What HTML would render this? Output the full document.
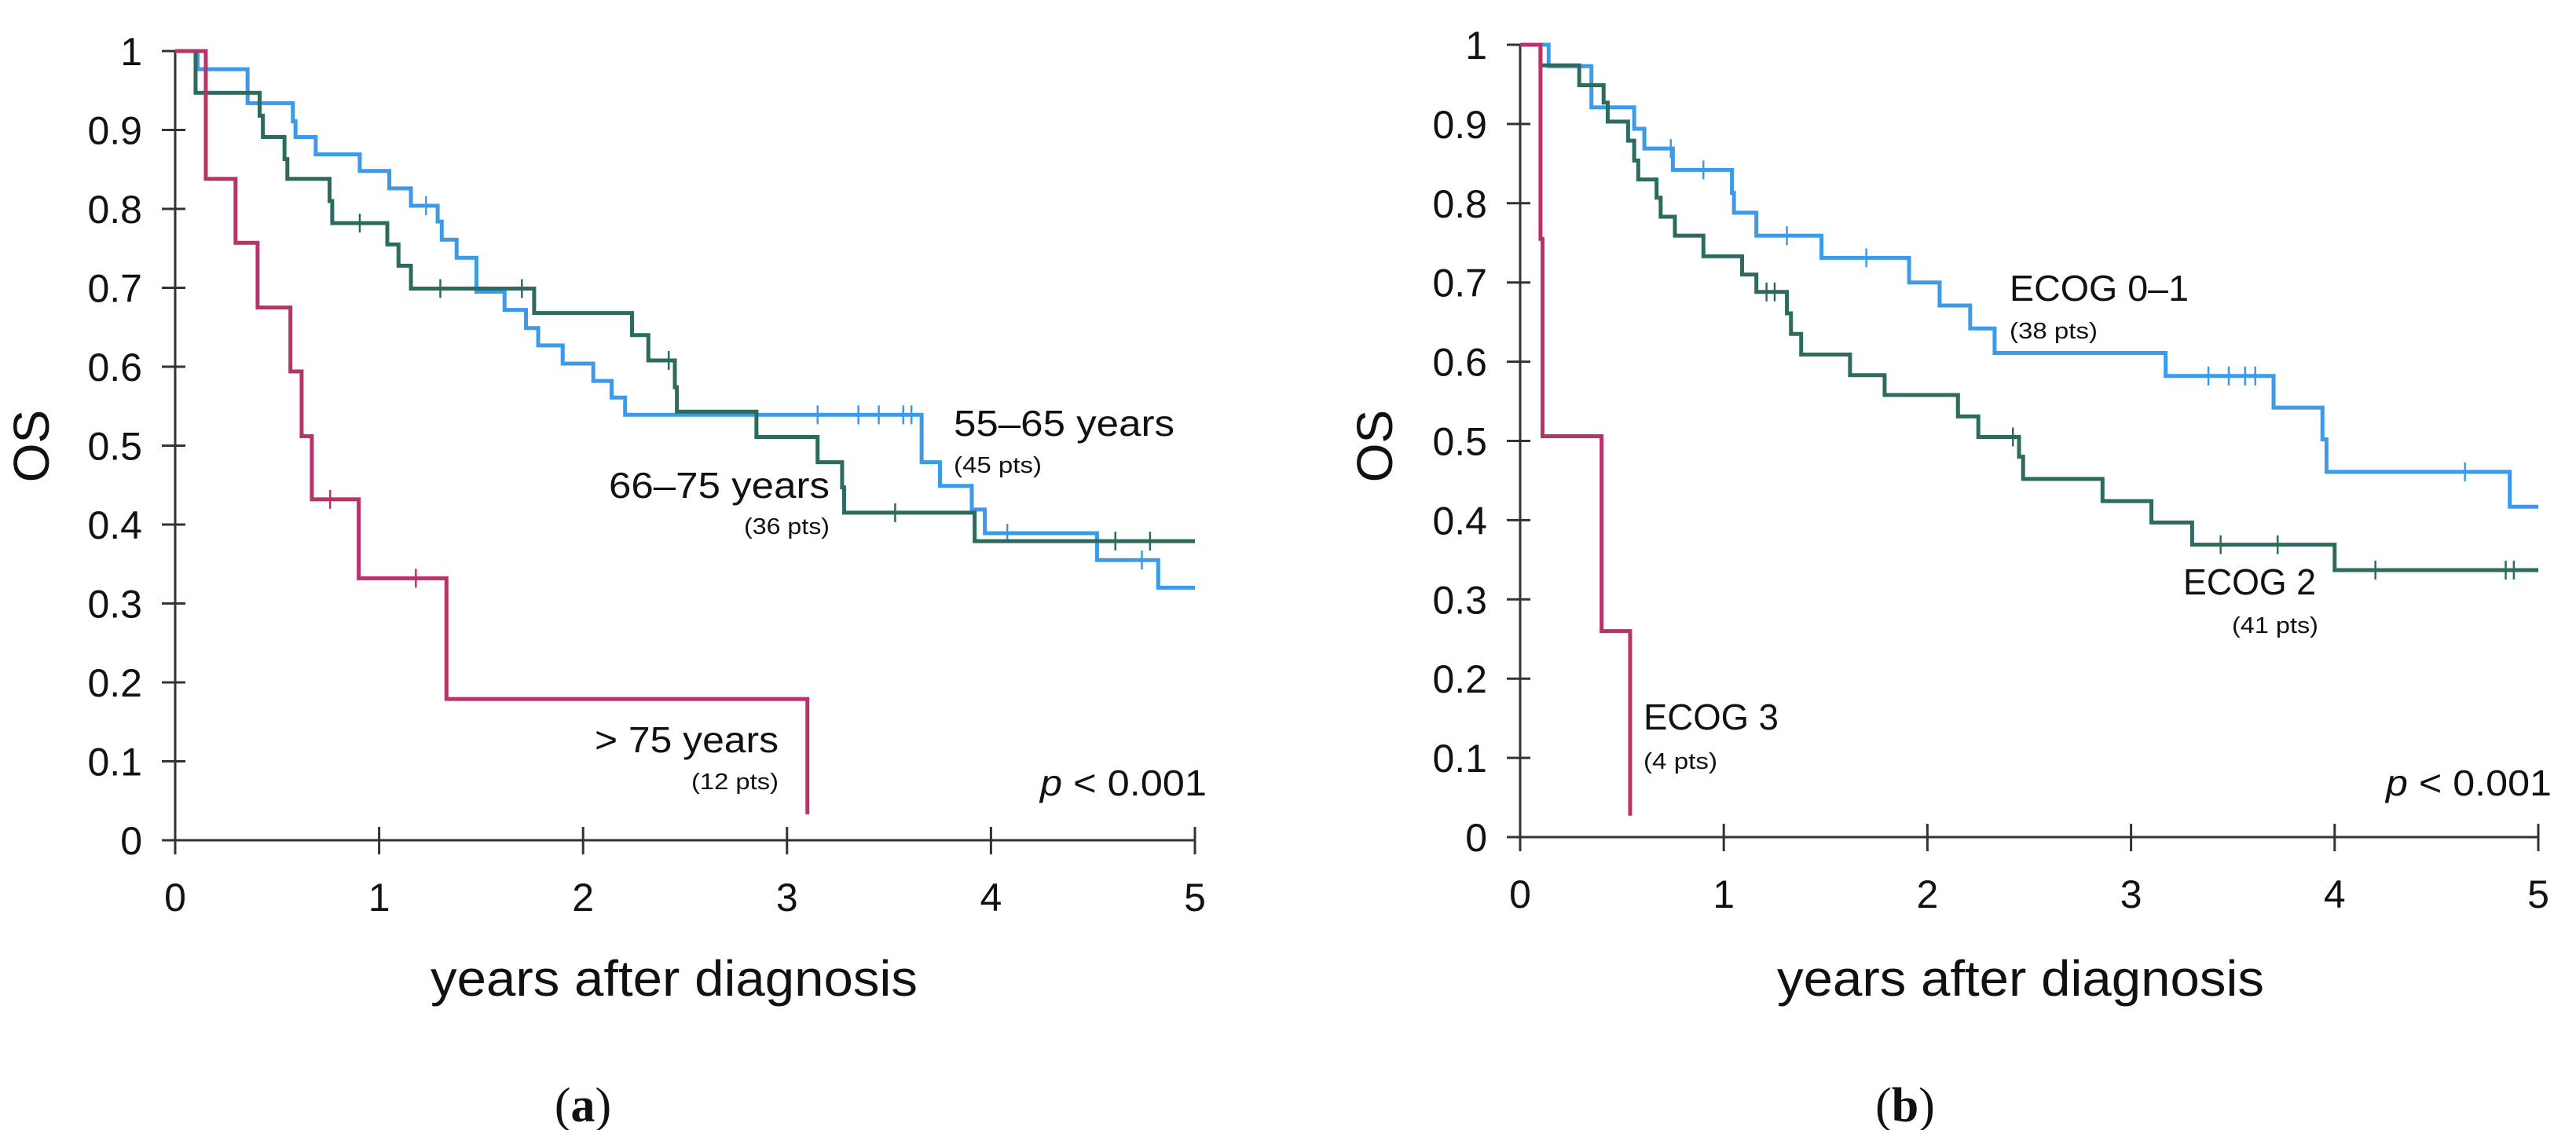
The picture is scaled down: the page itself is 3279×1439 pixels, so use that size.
<!DOCTYPE html>
<html><head><meta charset="utf-8">
<style>
html,body{margin:0;padding:0;background:#fff;}
svg{display:block;}
text{font-family:"Liberation Sans",sans-serif;fill:#111;}
</style></head>
<body>
<svg id="fig" width="3279" height="1439" viewBox="0 0 3279 1439" xmlns="http://www.w3.org/2000/svg">
  <g id="panelA"></g>
  <g id="panelB"></g>
  <text x="742" y="1428" font-size="62" text-anchor="middle" style="font-family:'Liberation Serif',serif">(<tspan font-weight="bold">a</tspan>)</text>
  <text x="2425" y="1428" font-size="62" text-anchor="middle" style="font-family:'Liberation Serif',serif">(<tspan font-weight="bold">b</tspan>)</text>
</svg>
<script>
const NS = "http://www.w3.org/2000/svg";
// ---- data ----
const xTicks = [0, 1, 2, 3, 4, 5];
const yTicks = [0, 0.1, 0.2, 0.3, 0.4, 0.5, 0.6, 0.7, 0.8, 0.9, 1];
const yTickLabels = ["0","0.1","0.2","0.3","0.4","0.5","0.6","0.7","0.8","0.9","1"];

const aBlueT = [0.11,0.355,0.577,0.59,0.689,0.905,1.05,1.156,1.287,1.307,1.38,1.477,1.615,1.72,1.78,1.90,2.05,2.14,2.206,3.66,3.75,3.906,3.97,4.52,4.82];
const aBlueV = [0.977,0.934,0.911,0.891,0.869,0.848,0.826,0.804,0.784,0.761,0.738,0.695,0.672,0.649,0.627,0.604,0.582,0.561,0.539,0.479,0.449,0.419,0.389,0.355,0.32];
const aBlueCens = [1.23,3.15,3.35,3.45,3.57,3.61,4.08,4.74];
const aBlueEnd = 5;

const aGreenT = [0.10,0.414,0.43,0.536,0.55,0.757,0.77,1.04,1.095,1.156,1.76,2.24,2.32,2.45,2.46,2.85,3.15,3.27,3.28,3.92];
const aGreenV = [0.947,0.918,0.891,0.863,0.838,0.81,0.782,0.755,0.728,0.699,0.668,0.64,0.608,0.574,0.543,0.511,0.479,0.447,0.415,0.379];
const aGreenCens = [0.905,1.30,1.70,2.42,3.53,4.61,4.78];
const aGreenEnd = 5;

const aRedT = [0.15,0.296,0.404,0.565,0.62,0.67,0.9,1.33,3.1];
const aRedV = [0.838,0.757,0.675,0.594,0.512,0.432,0.332,0.179,0.033];
const aRedCens = [0.76,1.18];
const aRedEnd = 3.1;

const bBlueT = [0.14,0.35,0.56,0.61,0.75,1.04,1.05,1.16,1.48,1.91,2.06,2.21,2.33,3.17,3.70,3.94,3.96,4.86];
const bBlueV = [0.973,0.921,0.894,0.869,0.842,0.813,0.788,0.759,0.731,0.70,0.671,0.642,0.611,0.582,0.542,0.502,0.461,0.417];
const bBlueCens = [0.74,0.90,1.31,1.70,3.38,3.48,3.56,3.61,4.64];
const bBlueEnd = 5;

const bGreenT = [0.10,0.29,0.41,0.43,0.53,0.56,0.58,0.67,0.69,0.76,0.90,1.09,1.16,1.31,1.33,1.38,1.62,1.79,2.15,2.25,2.45,2.47,2.86,3.10,3.30,4.0];
const bGreenV = [0.974,0.949,0.927,0.903,0.879,0.854,0.83,0.807,0.783,0.759,0.733,0.71,0.688,0.661,0.635,0.609,0.583,0.558,0.531,0.505,0.48,0.452,0.424,0.397,0.369,0.337];
const bGreenCens = [1.21,1.25,2.42,3.44,3.72,4.2,4.84,4.88];
const bGreenEnd = 5;

const bRedT = [0.10,0.11,0.40,0.54];
const bRedV = [0.755,0.506,0.26,0.027];
const bRedCens = [];
const bRedEnd = 0.54;

const BLUE = "#3b9bea", GREEN = "#2c6b5d", RED = "#b8336a";

function mk(tag, attrs, parent) {
  const e = document.createElementNS(NS, tag);
  for (const k in attrs) e.setAttribute(k, attrs[k]);
  parent.appendChild(e);
  return e;
}

function panel(g, ax, name) {
  const sx = t => ax.x0 + (ax.x5 - ax.x0) * t / 5;
  const sy = v => ax.y0 - (ax.y0 - ax.y1) * v;
  const yl = mk("line", {x1: sx(0), y1: sy(1), x2: sx(0), y2: sy(0) + 18, stroke: "#333", "stroke-width": 3}, g);
  
  
  const xl = mk("line", {x1: sx(0) - 17, y1: sy(0), x2: sx(5), y2: sy(0), stroke: "#333", "stroke-width": 3}, g);
  
  
  yTicks.forEach((v, i) => {
    const tk = mk("line", {x1: sx(0) - 17, y1: sy(v), x2: sx(0) + 13, y2: sy(v), stroke: "#333", "stroke-width": 3}, g);
    
    
    const tl = mk("text", {x: sx(0) - 42, y: sy(v) + 18, "font-size": 50, "text-anchor": "end"}, g);
    tl.textContent = yTickLabels[i];
    
    
  });
  xTicks.forEach(t => {
    const tk = mk("line", {x1: sx(t), y1: sy(0) - 17, x2: sx(t), y2: sy(0) + 18, stroke: "#333", "stroke-width": 3}, g);
    
    
    const tl = mk("text", {x: sx(t), y: sy(0) + 90, "font-size": 50, "text-anchor": "middle"}, g);
    tl.textContent = String(t);
    
    
  });
  const yt = mk("text", {x: 0, y: 0, "font-size": 64, "text-anchor": "middle", transform: "translate(" + (ax.osx) + ",568) rotate(-90)"}, g);
  yt.textContent = "OS";
  
  
  const xt = mk("text", {x: ax.xtx, y: 1268, "font-size": 64, "text-anchor": "middle", textLength: 620, lengthAdjust: "spacingAndGlyphs"}, g);
  xt.textContent = "years after diagnosis";
  
  
  return {sx, sy};
}

function curve(g, s, T, V, C, end, color, name) {
  let d = "M" + s.sx(0) + "," + s.sy(1);
  for (let i = 0; i < T.length; i++) {
    d += " H" + s.sx(T[i]) + " V" + s.sy(V[i]);
  }
  if (end > T[T.length - 1]) d += " H" + s.sx(end);
  const p = mk("path", {d: d, fill: "none", stroke: color, "stroke-width": 5, "stroke-linejoin": "miter"}, g);
  
  
  C.forEach(t => {
    let v = 1;
    for (let i = 0; i < T.length; i++) if (T[i] <= t) v = V[i];
    const c = mk("line", {x1: s.sx(t), y1: s.sy(v) - 12, x2: s.sx(t), y2: s.sy(v) + 12, stroke: color, "stroke-width": 2.5}, g);
    
    
  });
}

function label(g, txt, x, y, fs, w, name) {
  const t = mk("text", {x: x, y: y, "font-size": fs, textLength: w, lengthAdjust: "spacingAndGlyphs"}, g);
  t.textContent = txt;
  
  
  return t;
}

const gA = document.getElementById("panelA");
const sA = panel(gA, {x0: 223, x5: 1521, y1: 65, y0: 1070, osx: 62, xtx: 858}, "panel-a");
curve(gA, sA, aBlueT, aBlueV, aBlueCens, aBlueEnd, BLUE, "age-55-65");
curve(gA, sA, aGreenT, aGreenV, aGreenCens, aGreenEnd, GREEN, "age-66-75");
curve(gA, sA, aRedT, aRedV, aRedCens, aRedEnd, RED, "age-over-75");
label(gA, "55\u201365 years", 1214, 555, 46, 281, "label-55-65-years");
label(gA, "(45 pts)", 1214, 602, 29, 112, "label-45-pts");
label(gA, "66\u201375 years", 775, 634, 46, 281, "label-66-75-years");
label(gA, "(36 pts)", 947, 680, 29, 109, "label-36-pts");
label(gA, "> 75 years", 757, 958, 46, 234, "label-over-75-years");
label(gA, "(12 pts)", 880, 1005, 29, 111, "label-12-pts");
const pA = mk("text", {x: 1324, y: 1013, "font-size": 46, textLength: 212, lengthAdjust: "spacingAndGlyphs"}, gA);
pA.innerHTML = '<tspan font-style="italic">p</tspan> &lt; 0.001';



const gB = document.getElementById("panelB");
const sB = panel(gB, {x0: 1935, x5: 3231, y1: 57, y0: 1066, osx: 1772, xtx: 2572}, "panel-b");
curve(gB, sB, bBlueT, bBlueV, bBlueCens, bBlueEnd, BLUE, "ecog-0-1");
curve(gB, sB, bGreenT, bGreenV, bGreenCens, bGreenEnd, GREEN, "ecog-2");
curve(gB, sB, bRedT, bRedV, bRedCens, bRedEnd, RED, "ecog-3");
label(gB, "ECOG 0\u20131", 2558, 383, 46, 228, "label-ecog-0-1");
label(gB, "(38 pts)", 2558, 431, 29, 112, "label-38-pts");
label(gB, "ECOG 2", 2779, 757, 46, 169, "label-ecog-2");
label(gB, "(41 pts)", 2841, 806, 29, 110, "label-41-pts");
label(gB, "ECOG 3", 2092, 929, 46, 172, "label-ecog-3");
label(gB, "(4 pts)", 2092, 979, 29, 94, "label-4-pts");
const pB = mk("text", {x: 3037, y: 1013, "font-size": 46, textLength: 211, lengthAdjust: "spacingAndGlyphs"}, gB);
pB.innerHTML = '<tspan font-style="italic">p</tspan> &lt; 0.001';


</script>
</body></html>
